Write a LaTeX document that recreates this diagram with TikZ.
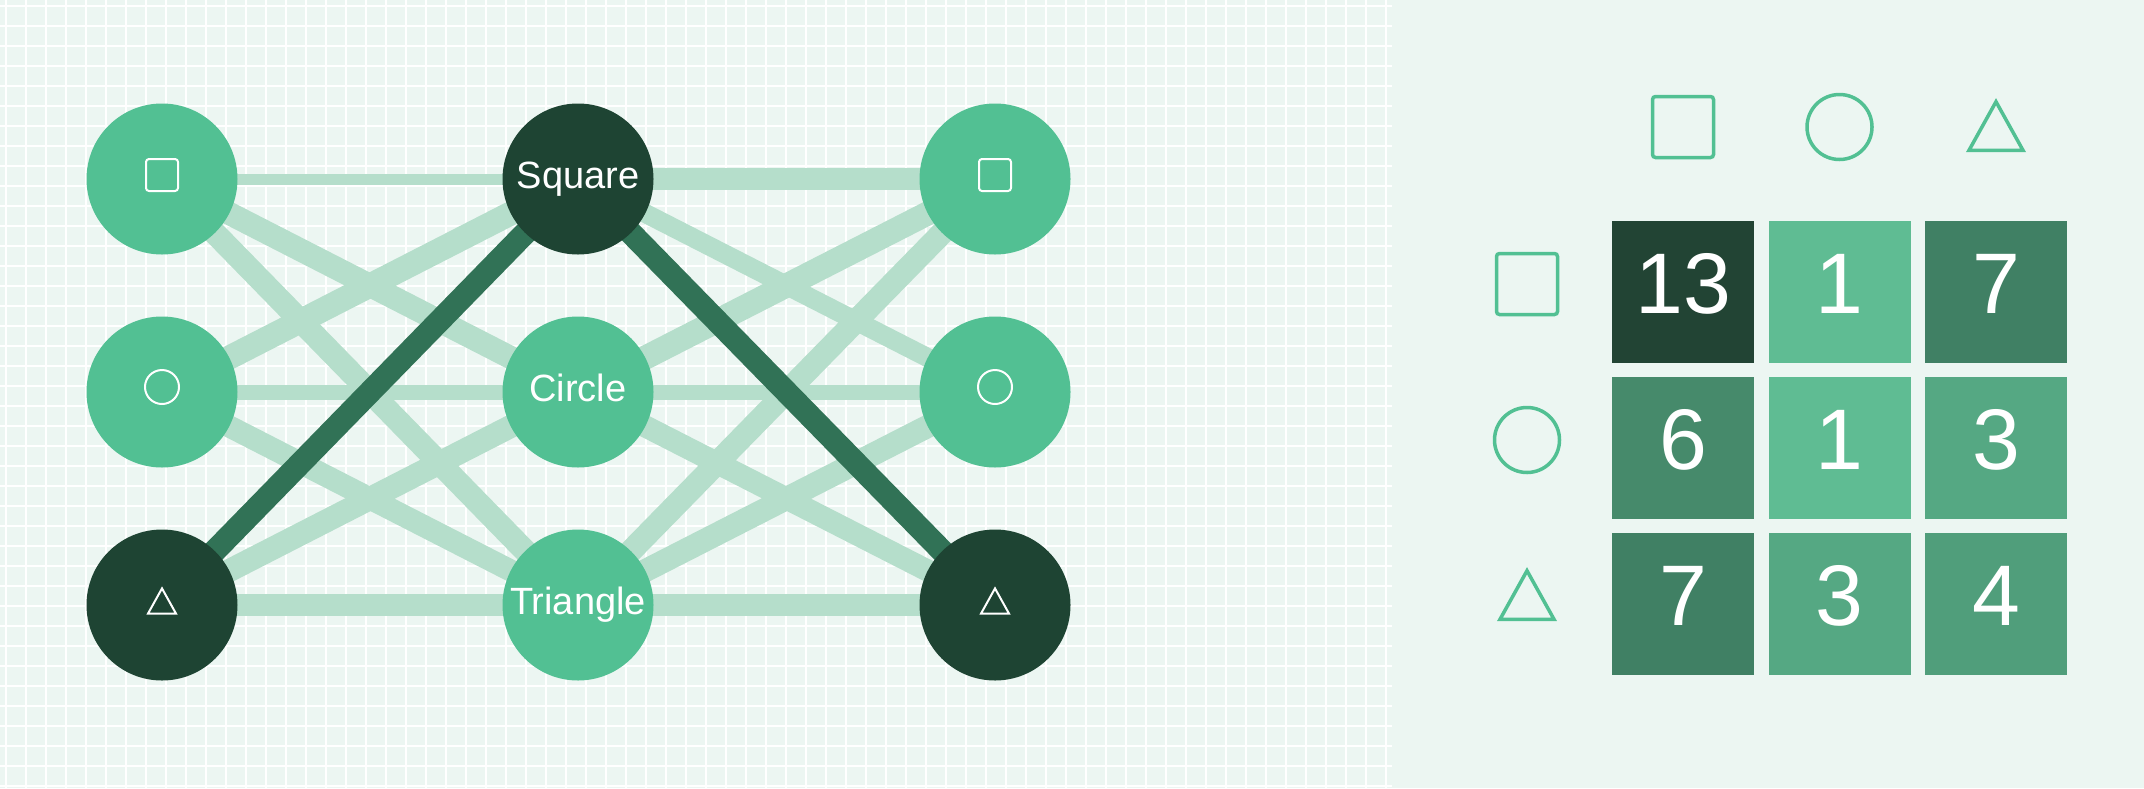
\documentclass[tikz,border=0pt]{standalone}
\usepackage{fontspec}
\setmainfont{Liberation Sans}

\definecolor{bgcol}{RGB}{236,246,242}
\definecolor{nodegreen}{RGB}{82,192,147}
\definecolor{nodedark}{RGB}{30,68,51}
\definecolor{edgelight}{RGB}{181,222,203}
\definecolor{edgedark}{RGB}{49,114,86}
\definecolor{celllo}{RGB}{95,188,147}
\definecolor{cellhi}{RGB}{34,68,52}

\pgfdeclarelayer{grid}
\pgfdeclarelayer{edges}
\pgfsetlayers{grid,edges,main}

\begin{document}
\begin{tikzpicture}
[x=1pt,y=-1pt,
 shapenode/.style={circle,fill=nodegreen,inner sep=0pt,minimum size=151pt,text=white,
   font=\fontsize{38}{44}\selectfont,text height=27pt,text depth=8pt},
 picked/.style={fill=nodedark},
 lightedge/.style={draw=edgelight},
 darkedge/.style={draw=edgedark,line width=23pt},
 gridline/.style={draw=white,line width=1.7pt},
 icon/.style={color=white,line width=2pt},
 headicon/.style={color=nodegreen,line width=3.5pt},
 cellbox/.style={rectangle,inner sep=0pt,minimum size=142pt},
 celltext/.style={text=white,inner sep=0pt,font=\fontsize{86}{96}\selectfont},
 sqicon/.pic={\draw[rounded corners=3pt] (-#1/2,-#1/2) rectangle (#1/2,#1/2);},
 ciricon/.pic={\draw (0,0) circle (#1/2);},
 triicon/.pic={\draw[line join=miter] (0,-0.45*#1) -- (0.5*#1,0.45*#1) -- (-0.5*#1,0.45*#1) -- cycle;}]

\useasboundingbox (0,0) rectangle (2144,788);

% the background and its grid
\begin{pgfonlayer}{grid}
\fill[bgcol] (0,0) rectangle (2144,788);
\foreach \x in {6,26,...,1386} \draw[gridline] (\x,0) -- (\x,788);
\foreach \y in {6,26,...,786} \draw[gridline] (0,\y) -- (1392,\y);
\end{pgfonlayer}

% the three layers of shapes
\node[shapenode] (lsq) at (162,179) {};
\node[shapenode] (lci) at (162,392) {};
\node[shapenode,picked] (ltr) at (162,605) {};
\node[shapenode,picked] (msq) at (578,179) {Square};
\node[shapenode] (mci) at (578,392) {Circle};
\node[shapenode] (mtr) at (578,605) {Triangle};
\node[shapenode] (rsq) at (995,179) {};
\node[shapenode] (rci) at (995,392) {};
\node[shapenode,picked] (rtr) at (995,605) {};

% the little icons
\pic[icon] at ([yshift=4pt]lsq.center) {sqicon=32};
\pic[icon] at ([yshift=5pt]lci.center) {ciricon=34};
\pic[icon] at ([yshift=4pt]ltr.center) {triicon=28};
\pic[icon] at ([yshift=4pt]rsq.center) {sqicon=32};
\pic[icon] at ([yshift=5pt]rci.center) {ciricon=34};
\pic[icon] at ([yshift=4pt]rtr.center) {triicon=28};

% the edges
\begin{pgfonlayer}{edges}
\foreach \a/\b/\w in {lsq/msq/11, lsq/mci/23, lsq/mtr/23, lci/msq/24, lci/mci/15,
    lci/mtr/22, ltr/mci/23, ltr/mtr/22, msq/rsq/22, msq/rci/19, mci/rsq/24,
    mci/rci/15, mci/rtr/22, mtr/rsq/23, mtr/rci/23, mtr/rtr/22}
  \draw[lightedge,line width=\w pt] (\a.center) -- (\b.center);
\draw[darkedge] (ltr.center) -- (msq.center);
\draw[darkedge] (msq.center) -- (rtr.center);
\end{pgfonlayer}

% the headers of the table
\pic[headicon] at (1683,127) {sqicon=61};
\pic[headicon] at (1839.5,127) {ciricon=65};
\pic[headicon] at (1996,126) {triicon=54};
\pic[headicon] at (1527,284) {sqicon=61};
\pic[headicon] at (1527,440) {ciricon=65};
\pic[headicon] at (1527,595) {triicon=54};

% the counts
\foreach \v [count=\i from 0] in {13,1,7,6,1,3,7,3,4} {
  \pgfmathtruncatemacro{\r}{\i/3}
  \pgfmathtruncatemacro{\c}{mod(\i,3)}
  \pgfmathsetmacro{\p}{(\v-1)*100/12}
  \node[cellbox,fill=cellhi!\p!celllo] (cell\i) at (1683+156.5*\c,292+156*\r) {};
  \node[celltext] (num\i) at ([yshift=8pt]cell\i.center) {\v};
}

\end{tikzpicture}
\end{document}
